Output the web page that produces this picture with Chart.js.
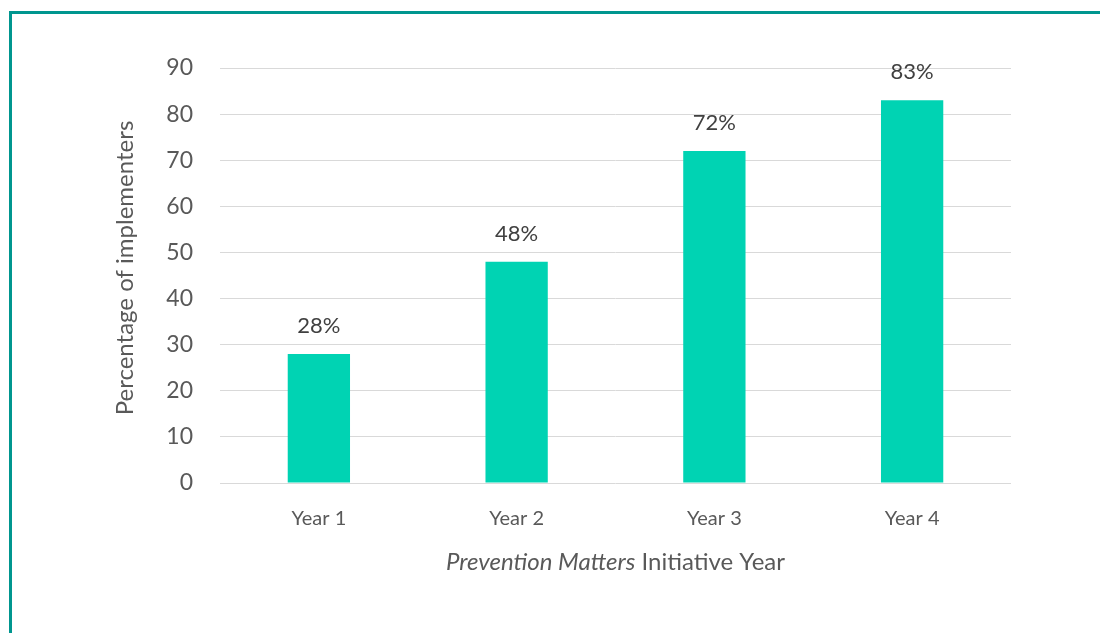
<!DOCTYPE html>
<html>
<head>
<meta charset="utf-8">
<script src="https://cdn.jsdelivr.net/npm/chart.js@4"></script>
<style>
  html, body { margin: 0; padding: 0; background: #ffffff; }
  #frame {
    position: absolute; left: 9px; top: 11px; right: 0; bottom: 0;
    border-left: 3px solid #00968f; border-top: 3px solid #00968f;
  }
  #wrap { position: absolute; left: 0; top: 0; width: 1100px; height: 633px; }
</style>
</head>
<body>
<div id="frame"></div>
<div id="wrap"><canvas id="chart" width="1100" height="633"></canvas></div>
<script>
// ---- data ----
const years = ["Year 1", "Year 2", "Year 3", "Year 4"];
const implementers = [28, 48, 72, 83];
const yTicks = [0, 10, 20, 30, 40, 50, 60, 70, 80, 90];
const yTitleText = "Percentage of implementers";

const FONT = "Lato, 'Open Sans', sans-serif";
const TEAL = "#00d3b3";
const GREY = "#595959";

// value labels above each bar
const valueLabels = {
  id: "valueLabels",
  afterDatasetsDraw(chart) {
    const ctx = chart.ctx;
    const meta = chart.getDatasetMeta(0);
    ctx.save();
    ctx.font = "22px " + FONT;
    ctx.fillStyle = "#404040";
    ctx.textAlign = "center";
    ctx.textBaseline = "alphabetic";
    meta.data.forEach((bar, i) => {
      ctx.fillText(implementers[i] + "%", bar.x, bar.y - 21);
    });
    ctx.restore();
  },
};

// axis titles (x one has an italic part)
const axisTitles = {
  id: "axisTitles",
  afterDraw(chart) {
    const ctx = chart.ctx;
    const a = chart.chartArea;
    ctx.save();
    ctx.fillStyle = GREY;
    ctx.textBaseline = "middle";

    // x title
    const part1 = "Prevention Matters";
    const part2 = " Initiative Year";
    ctx.font = "italic 24px " + FONT;
    const w1 = ctx.measureText(part1).width;
    ctx.font = "24px " + FONT;
    const w2 = ctx.measureText(part2).width;
    const x0 = (a.left + a.right) / 2 - (w1 + w2) / 2;
    ctx.textAlign = "left";
    ctx.font = "italic 24px " + FONT;
    ctx.fillText(part1, x0, 562);
    ctx.font = "24px " + FONT;
    ctx.fillText(part2, x0 + w1, 562);

    // y title
    ctx.translate(125, 268);
    ctx.rotate(-Math.PI / 2);
    ctx.textAlign = "center";
    ctx.fillText(yTitleText, 0, 0);
    ctx.restore();
  },
};

new Chart(document.getElementById("chart"), {
  type: "bar",
  data: {
    labels: years,
    datasets: [
      {
        data: implementers,
        backgroundColor: TEAL,
        borderWidth: 0,
        categoryPercentage: 1,
        barPercentage: 0.315,
      },
    ],
  },
  options: {
    responsive: false,
    animation: false,
    layout: { padding: { top: 68, right: 89, bottom: 0, left: 0 } },
    plugins: { legend: { display: false }, tooltip: { enabled: false } },
    scales: {
      x: {
        grid: { display: false, drawTicks: false },
        border: { display: false },
        ticks: { color: GREY, font: { family: FONT, size: 20 }, padding: 24 },
        afterFit: (s) => { s.height = 150; },
      },
      y: {
        min: 0,
        max: 90,
        afterBuildTicks: (s) => { s.ticks = yTicks.map((v) => ({ value: v })); },
        grid: { color: "#d9d9d9", lineWidth: 1, drawTicks: false },
        border: { display: false },
        ticks: { color: GREY, font: { family: FONT, size: 23 }, padding: 27 },
        afterFit: (s) => { s.width = 220; },
      },
    },
  },
  plugins: [valueLabels, axisTitles],
});
</script>
</body>
</html>
